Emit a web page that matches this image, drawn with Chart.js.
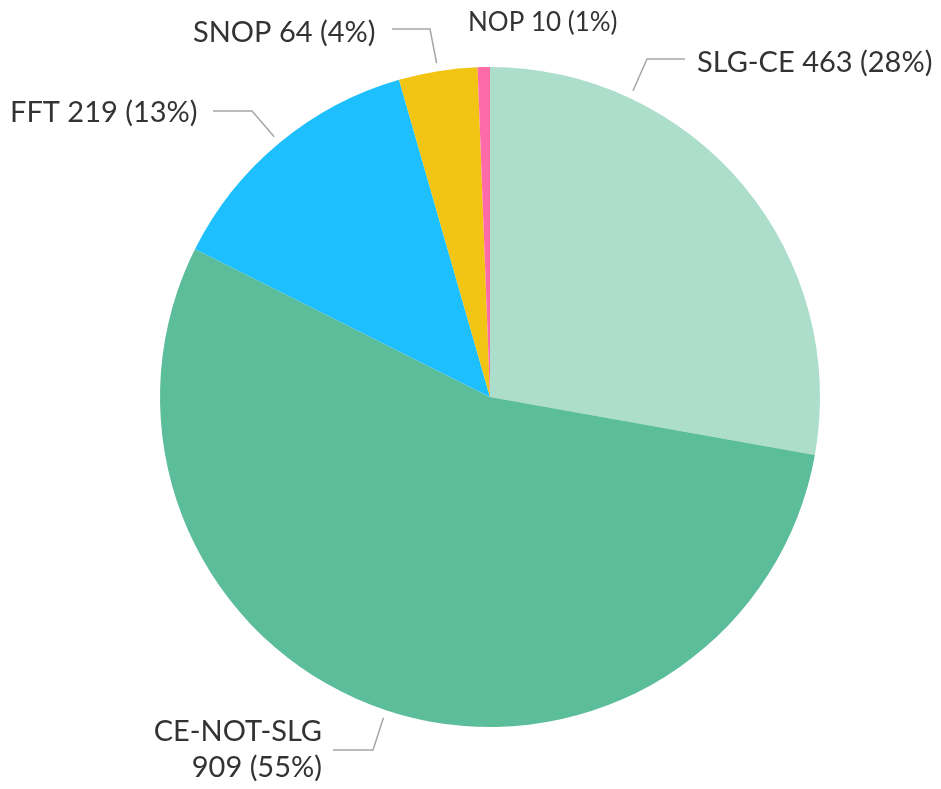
<!DOCTYPE html>
<html>
<head>
<meta charset="utf-8">
<script src="https://cdn.jsdelivr.net/npm/chart.js@4"></script>
<style>
  body { margin: 0; background: #fff; }
  #pie { display: block; }
</style>
</head>
<body>
<canvas id="pie" width="941" height="789"></canvas>
<script>
const categories = ["SLG-CE", "CE-NOT-SLG", "FFT", "SNOP", "NOP"];
const counts = [463, 909, 219, 64, 10];
const percentLabels = ["28%", "55%", "13%", "4%", "1%"];
const colors = ["#acdecb", "#5cbd9b", "#1dbfff", "#f2c515", "#ff6aa8"];

// where each label sits (text lines, anchor, leader elbow)
const labelLayout = [
    { lines: ["SLG-CE 463 (28%)"], x: 697, y: [72], align: "left", size: 29, frac: 0.25, leader: [[685, 59], [647, 59]] },
    { lines: ["CE-NOT-SLG", "909 (55%)"], x: 322, y: [741, 777], align: "right", size: 29, frac: 0.5, leader: [[333, 750], [373, 750]] },
    { lines: ["FFT 219 (13%)"], x: 10, y: [122], align: "left", size: 29, frac: 0.5, leader: [[213, 111], [252, 111]] },
    { lines: ["SNOP 64 (4%)"], x: 193, y: [42], align: "left", size: 29, frac: 0.5, leader: [[392, 29], [430, 29]] },
    { lines: ["NOP 10 (1%)"], x: 468, y: [31], align: "left", size: 26, frac: 0.5, leader: null }
];

const pieLabels = {
    id: "pieLabels",
    afterDraw(chart) {
        const ctx = chart.ctx;
        const arcs = chart.getDatasetMeta(0).data;
        ctx.save();
        arcs.forEach((arc, i) => {
            const lay = labelLayout[i];
            if (lay.leader) {
                const p = arc.getProps(["x", "y", "startAngle", "endAngle", "outerRadius"], true);
                const a = p.startAngle + (p.endAngle - p.startAngle) * lay.frac;
                const r = p.outerRadius + 8;
                ctx.strokeStyle = "#a6a6a6";
                ctx.lineWidth = 1.5;
                ctx.beginPath();
                ctx.moveTo(lay.leader[0][0], lay.leader[0][1]);
                ctx.lineTo(lay.leader[1][0], lay.leader[1][1]);
                ctx.lineTo(p.x + Math.cos(a) * r, p.y + Math.sin(a) * r);
                ctx.stroke();
            }
            ctx.fillStyle = "#333333";
            ctx.font = lay.size + "px Lato";
            ctx.textAlign = lay.align;
            ctx.textBaseline = "alphabetic";
            lay.lines.forEach((t, k) => ctx.fillText(t, lay.x, lay.y[k]));
        });
        ctx.restore();
    }
};

new Chart(document.getElementById("pie"), {
    type: "pie",
    data: {
        labels: categories,
        datasets: [{
            data: counts,
            backgroundColor: colors,
            borderWidth: 0
        }]
    },
    options: {
        responsive: false,
        animation: false,
        layout: { padding: { left: 160, right: 121, top: 67, bottom: 62 } },
        plugins: {
            legend: { display: false },
            tooltip: { enabled: false }
        }
    },
    plugins: [pieLabels]
});
</script>
</body>
</html>
